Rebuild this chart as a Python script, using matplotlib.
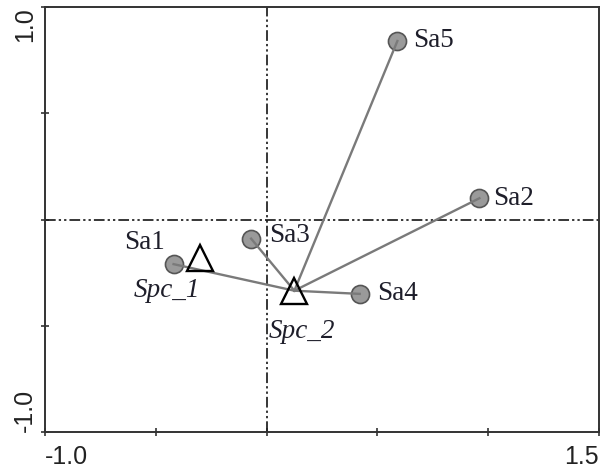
import matplotlib
matplotlib.use('Agg')
import matplotlib.pyplot as plt

# sample scores (circles)
samples = ['Sa1', 'Sa2', 'Sa3', 'Sa4', 'Sa5']
sample_x = [-0.42, 0.96, -0.07, 0.42, 0.59]
sample_y = [-0.21, 0.10, -0.09, -0.35, 0.84]

# species centroids (triangles)
species = ['Spc_1', 'Spc_2']
species_x = [-0.30, 0.125]
species_y = [-0.18, -0.335]

# which species each sample is joined to
link = [1, 1, 1, 1, 1]

# axis ticks, only the ends get a label
x_ticks = [-1.0, -0.5, 0.0, 0.5, 1.0, 1.5]
x_tick_labels = ['-1.0', '', '', '', '', '1.5']
y_ticks = [-1.0, -0.5, 0.0, 0.5, 1.0]
y_tick_labels = ['-1.0', '', '', '', '1.0']

fig = plt.figure(figsize=(6.02, 4.71), dpi=100)
ax = fig.add_axes([0.0748, 0.0828, 0.9203, 0.9023])

# dash-dot-dot reference lines through the origin
dashes = (7, 2, 1.5, 2, 1.5, 2)
ax.axhline(0, color='black', lw=1.1, dashes=dashes, zorder=1)
ax.axvline(0, color='black', lw=1.1, dashes=dashes, zorder=1)

ax.scatter(sample_x, sample_y, s=13**2, c='#9a9a9a', edgecolors='#555555', linewidths=1.2, zorder=2)

for i in range(len(samples)):
    j = link[i]
    ax.plot([sample_x[i], species_x[j]], [sample_y[i], species_y[j]], color='#7a7a7a', lw=1.7, zorder=3)

ax.plot(species_x, species_y, linestyle='none', marker='^', markersize=19,
        markerfacecolor='none', markeredgecolor='black', markeredgewidth=1.7, zorder=4)

txt_color = '#1e1e2a'
serif = ['Liberation Serif', 'DejaVu Serif']
# label offsets in pixels (dx, dy, ha, va)
sample_offsets = [(-9, 15, 'right', 'baseline'), (14, 0, 'left', 'center'),
                  (18, 3, 'left', 'center'), (17, 0, 'left', 'center'),
                  (16, 1, 'left', 'center')]
for name, x, y, (dx, dy, ha, va) in zip(samples, sample_x, sample_y, sample_offsets):
    ax.annotate(name, (x, y), xytext=(dx, dy), textcoords='offset pixels',
                ha=ha, va=va, fontsize=19.5, family=serif, color=txt_color, zorder=5)

species_offsets = [(-33, -20), (8, -28)]
for name, x, y, (dx, dy) in zip(species, species_x, species_y, species_offsets):
    ax.annotate(name, (x, y), xytext=(dx, dy), textcoords='offset pixels',
                ha='center', va='top', fontsize=19.5, family=serif, style='italic',
                color=txt_color, zorder=5)

ax.set_xlim(-1.0, 1.5)
ax.set_ylim(-1.0, 1.0)
ax.set_xticks(x_ticks)
ax.set_xticklabels(x_tick_labels, fontsize=18, family='Liberation Sans', color='#222222')
ax.set_yticks(y_ticks)
ax.set_yticklabels(y_tick_labels, fontsize=18, family='Liberation Sans', color='#222222', rotation=90)
ax.get_xticklabels()[0].set_ha('left')
ax.get_xticklabels()[-1].set_ha('right')
ax.get_yticklabels()[0].set_va('bottom')
ax.get_yticklabels()[-1].set_va('top')
ax.tick_params(axis='both', direction='inout', length=6, width=1.1, color='#222222')
ax.tick_params(axis='x', pad=6)
ax.tick_params(axis='y', pad=3)

for sp in ax.spines.values():
    sp.set_color('#333333')
    sp.set_linewidth(1.4)

fig.savefig('out.png', dpi=100)
plt.close(fig)
